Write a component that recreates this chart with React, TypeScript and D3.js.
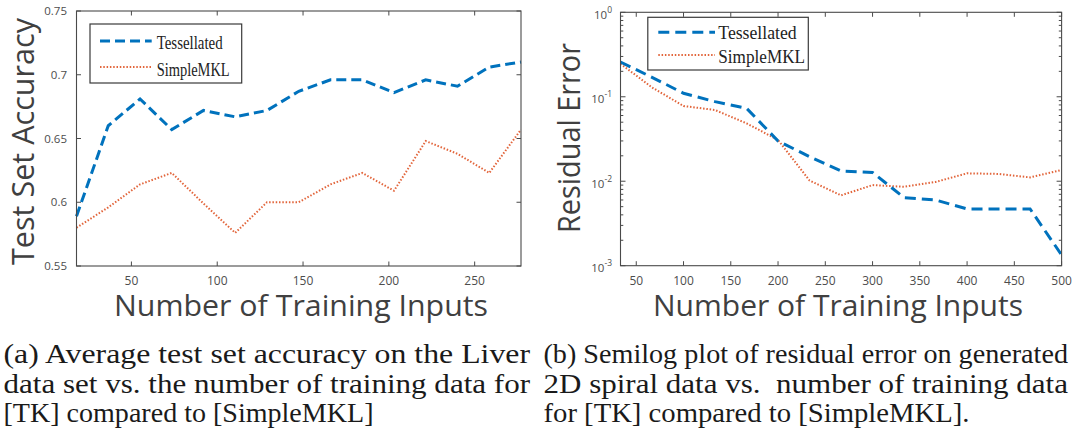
import React from 'react';
import * as d3 from 'd3';

// ---------- data ----------
const leftX = [18, 36.5, 55, 73.5, 92, 110.5, 129, 147.5, 166, 184.5, 203, 221.5, 240, 258.5, 277];
const leftTess = [0.589, 0.66, 0.681, 0.657, 0.672, 0.667, 0.672, 0.687, 0.696, 0.696, 0.686, 0.696, 0.691, 0.706, 0.71];
const leftSimple = [0.58, 0.596, 0.614, 0.623, 0.599, 0.576, 0.6, 0.6, 0.614, 0.623, 0.609, 0.648, 0.638, 0.623, 0.657];
const leftXTicks = [50, 100, 150, 200, 250];
const leftYTicks = [0.55, 0.6, 0.65, 0.7, 0.75];
const leftYTickLabels = ['0.55', '0.6', '0.65', '0.7', '0.75'];

const rightX = [33.33, 66.67, 100, 133.33, 166.67, 200, 233.33, 266.67, 300, 333.33, 366.67, 400, 433.33, 466.67, 500];
const rightTess = [0.258, 0.17, 0.11, 0.0875, 0.073, 0.03, 0.0195, 0.0132, 0.0127, 0.0064, 0.006, 0.0047, 0.0047, 0.0047, 0.00134];
const rightSimple = [0.246, 0.129, 0.0778, 0.0697, 0.0485, 0.0308, 0.0102, 0.0068, 0.009, 0.0086, 0.0098, 0.0124, 0.0122, 0.0111, 0.0136];
const rightXTicks = [50, 100, 150, 200, 250, 300, 350, 400, 450, 500];
const rightYExps = [-3, -2, -1, 0];

const seriesNames = ['Tessellated', 'SimpleMKL'];

const captionLeft = [
  '(a) Average test set accuracy on the Liver',
  'data set vs. the number of training data for',
  '[TK] compared to [SimpleMKL]',
];
const captionRight = [
  '(b) Semilog plot of residual error on generated',
  '2D spiral data vs.  number of training data',
  'for [TK] compared to [SimpleMKL].',
];

// ---------- style ----------
const BLUE = '#0072BD';
const ORANGE = '#E2653B';
const AXIS = '#4a4a4a';
const TICKTXT = '#4d4d4d';
const TITLE = '#404040';
const SANS = '"Open Sans", "DejaVu Sans", sans-serif';
const SERIF = '"Liberation Serif", "Times New Roman", serif';

const serifStyle: React.CSSProperties = { fontFamily: SERIF };
const sansStyle: React.CSSProperties = { fontFamily: SANS };

export default function App() {
  const L = { x0: 76.5, x1: 521, y0: 11, y1: 266 };
  const xL = d3.scaleLinear().domain([18, 277]).range([L.x0, L.x1]);
  const yL = d3.scaleLinear().domain([0.55, 0.75]).range([L.y1, L.y0]);
  const lineL = d3.line<number>().x((_, i) => xL(leftX[i])).y((d) => yL(d));

  const R = { x0: 620.5, x1: 1061.6, y0: 12.3, y1: 265.7 };
  const xR = d3.scaleLinear().domain([33.33, 500]).range([R.x0, R.x1]);
  const yR = d3.scaleLog().domain([1e-3, 1]).range([R.y1, R.y0]);
  const lineR = d3.line<number>().x((_, i) => xR(rightX[i])).y((d) => yR(d));

  const minorR: number[] = [];
  for (let e = -3; e < 0; e++) for (let m = 2; m <= 9; m++) minorR.push(m * Math.pow(10, e));

  const TL = 4.5;

  return (
    <svg width={1072} height={434} style={{ position: 'absolute', left: 0, top: 0, background: '#fff' }}>
      <rect x={0} y={0} width={1072} height={434} fill="#fff" />

      {/* ================= LEFT CHART ================= */}
      <g>
        {leftXTicks.map((t) => (
          <g key={'lxt' + t}>
            <line x1={xL(t)} x2={xL(t)} y1={L.y1} y2={L.y1 - TL} stroke={AXIS} strokeWidth={1} />
            <line x1={xL(t)} x2={xL(t)} y1={L.y0} y2={L.y0 + TL} stroke={AXIS} strokeWidth={1} />
            <text x={xL(t)} y={284.5} textAnchor="middle" style={sansStyle} fontSize={12} fill={TICKTXT}>{t}</text>
          </g>
        ))}
        {leftYTicks.map((t, i) => (
          <g key={'lyt' + t}>
            <line x1={L.x0} x2={L.x0 + TL} y1={yL(t)} y2={yL(t)} stroke={AXIS} strokeWidth={1} />
            <line x1={L.x1} x2={L.x1 - TL} y1={yL(t)} y2={yL(t)} stroke={AXIS} strokeWidth={1} />
            <text x={L.x0 - 9.5} y={yL(t) + 4} textAnchor="end" style={sansStyle} fontSize={11.5} fill={TICKTXT}>{leftYTickLabels[i]}</text>
          </g>
        ))}
        <path d={lineL(leftSimple) || ''} fill="none" stroke={ORANGE} strokeWidth={2} strokeDasharray="1.5,1.8" />
        <path d={lineL(leftTess) || ''} fill="none" stroke={BLUE} strokeWidth={3} strokeDasharray="10,5" />
        <rect x={L.x0} y={L.y0} width={L.x1 - L.x0} height={L.y1 - L.y0} fill="none" stroke={AXIS} strokeWidth={1.1} />
        {/* legend */}
        <rect x={90} y={24} width={151.7} height={59} fill="#fff" stroke="#3a3a3a" strokeWidth={1.2} />
        <line x1={100} x2={151.7} y1={41} y2={41} stroke={BLUE} strokeWidth={3} strokeDasharray="10,5" />
        <text x={156.7} y={49.3} style={serifStyle} fontSize={19} fill="#222" textLength={66} lengthAdjust="spacingAndGlyphs">{seriesNames[0]}</text>
        <line x1={100} x2={151.7} y1={67} y2={67} stroke={ORANGE} strokeWidth={2} strokeDasharray="1.5,1.8" />
        <text x={156.7} y={76} style={serifStyle} fontSize={19} fill="#222" textLength={73} lengthAdjust="spacingAndGlyphs">{seriesNames[1]}</text>
        {/* titles */}
        <text x={301} y={316} textAnchor="middle" style={sansStyle} fontSize={30} fill={TITLE} textLength={374} lengthAdjust="spacingAndGlyphs">Number of Training Inputs</text>
        <text transform="translate(33.5,141.5) rotate(-90)" textAnchor="middle" style={sansStyle} fontSize={31} fill={TITLE} textLength={247} lengthAdjust="spacingAndGlyphs">Test Set Accuracy</text>
      </g>

      {/* ================= RIGHT CHART ================= */}
      <g>
        {rightXTicks.map((t) => (
          <g key={'rxt' + t}>
            <line x1={xR(t)} x2={xR(t)} y1={R.y1} y2={R.y1 - TL} stroke={AXIS} strokeWidth={1} />
            <line x1={xR(t)} x2={xR(t)} y1={R.y0} y2={R.y0 + TL} stroke={AXIS} strokeWidth={1} />
            <text x={xR(t)} y={284.5} textAnchor="middle" style={sansStyle} fontSize={12} fill={TICKTXT}>{t}</text>
          </g>
        ))}
        {rightYExps.map((e) => {
          const y = yR(Math.pow(10, e));
          return (
            <g key={'rye' + e}>
              <line x1={R.x0} x2={R.x0 + 5} y1={y} y2={y} stroke={AXIS} strokeWidth={1} />
              <line x1={R.x1} x2={R.x1 - 5} y1={y} y2={y} stroke={AXIS} strokeWidth={1} />
              <text x={R.x0 - 8.5} y={y + 6.5} textAnchor="end" style={sansStyle} fontSize={11.5} fill={TICKTXT}>
                10<tspan dy={-6} fontSize={8.5}>{e}</tspan>
              </text>
            </g>
          );
        })}
        {minorR.map((v, i) => (
          <g key={'rmn' + i}>
            <line x1={R.x0} x2={R.x0 + 2.8} y1={yR(v)} y2={yR(v)} stroke={AXIS} strokeWidth={1} />
            <line x1={R.x1} x2={R.x1 - 2.8} y1={yR(v)} y2={yR(v)} stroke={AXIS} strokeWidth={1} />
          </g>
        ))}
        <path d={lineR(rightSimple) || ''} fill="none" stroke={ORANGE} strokeWidth={2} strokeDasharray="1.5,1.8" />
        <path d={lineR(rightTess) || ''} fill="none" stroke={BLUE} strokeWidth={3} strokeDasharray="11,6" />
        <rect x={R.x0} y={R.y0} width={R.x1 - R.x0} height={R.y1 - R.y0} fill="none" stroke={AXIS} strokeWidth={1.1} />
        {/* legend */}
        <rect x={647.8} y={17.3} width={160.5} height={52.7} fill="#fff" stroke="#3a3a3a" strokeWidth={1.2} />
        <line x1={658.3} x2={715} y1={32.3} y2={32.3} stroke={BLUE} strokeWidth={3} strokeDasharray="11,6" />
        <text x={718.3} y={39.3} style={serifStyle} fontSize={19} fill="#222" textLength={78.4} lengthAdjust="spacingAndGlyphs">{seriesNames[0]}</text>
        <line x1={658.3} x2={715} y1={55} y2={55} stroke={ORANGE} strokeWidth={2} strokeDasharray="1.5,1.8" />
        <text x={718.3} y={62.7} style={serifStyle} fontSize={19} fill="#222" textLength={86.7} lengthAdjust="spacingAndGlyphs">{seriesNames[1]}</text>
        {/* titles */}
        <text x={838} y={316} textAnchor="middle" style={sansStyle} fontSize={30} fill={TITLE} textLength={370} lengthAdjust="spacingAndGlyphs">Number of Training Inputs</text>
        <text transform="translate(580,138) rotate(-90)" textAnchor="middle" style={sansStyle} fontSize={31} fill={TITLE} textLength={190} lengthAdjust="spacingAndGlyphs">Residual Error</text>
      </g>

      {/* ================= CAPTIONS ================= */}
      {captionLeft.map((s, i) => (
        <text key={'cl' + i} x={3.5} y={363 + i * 29.5} style={{ ...serifStyle, whiteSpace: 'pre' }} fontSize={28} fill="#1a1a1a"
          textLength={i < 2 ? 526.5 : 370} lengthAdjust="spacingAndGlyphs">{s}</text>
      ))}
      {captionRight.map((s, i) => (
        <text key={'cr' + i} x={543.5} y={363 + i * 29.5} style={{ ...serifStyle, whiteSpace: 'pre' }} fontSize={28} fill="#1a1a1a"
          textLength={i < 2 ? 524.5 : 426} lengthAdjust="spacingAndGlyphs">{s}</text>
      ))}
    </svg>
  );
}
